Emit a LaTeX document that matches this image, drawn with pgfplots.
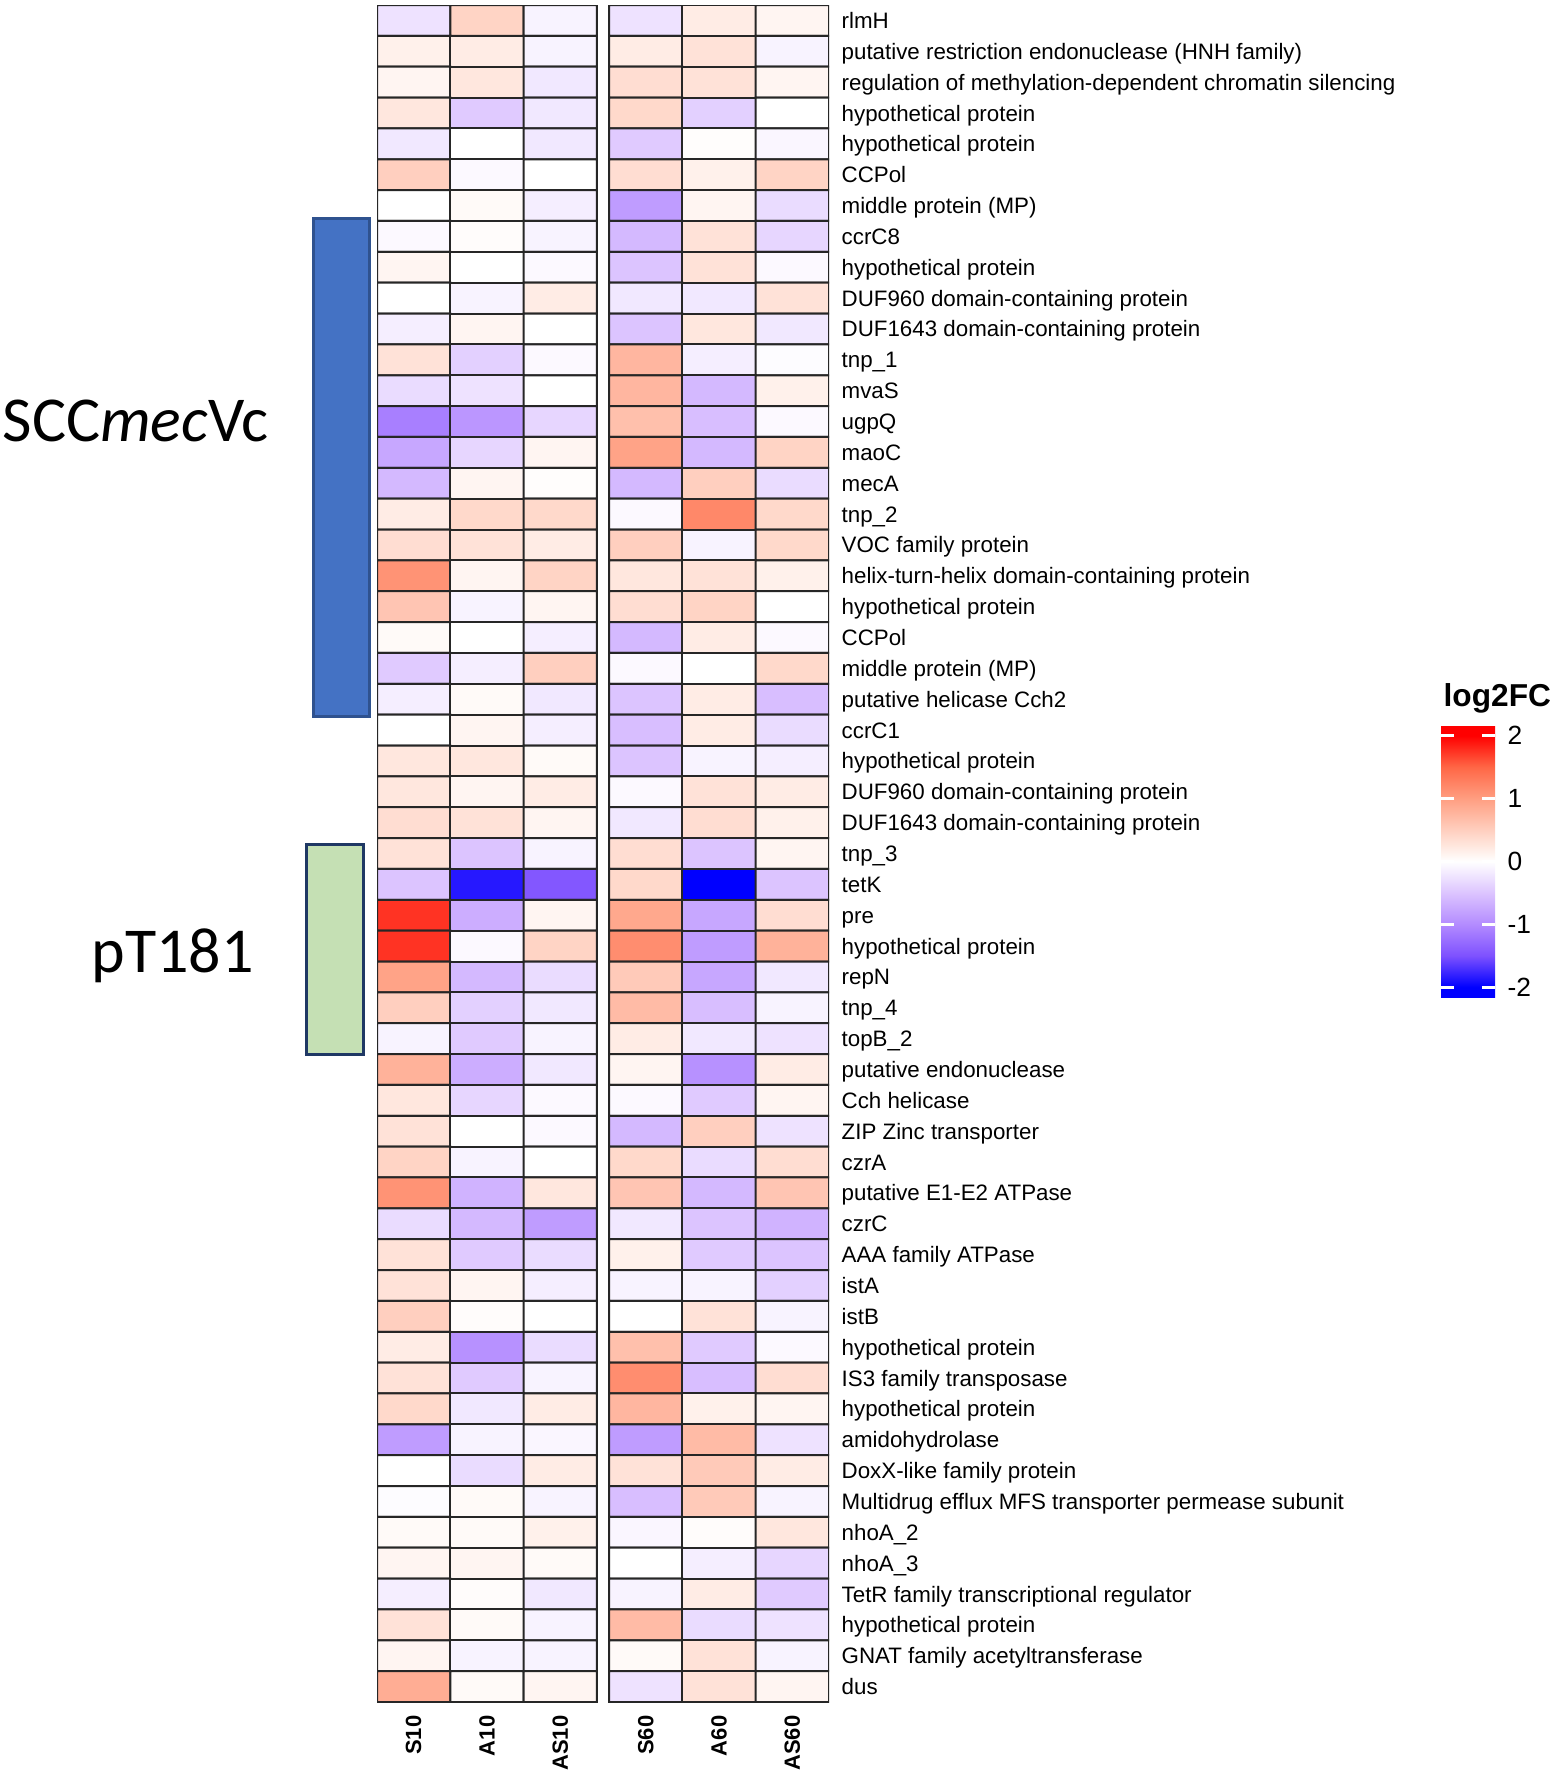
\documentclass[border=0pt]{standalone}
\usepackage{pgfplots}
\pgfplotsset{compat=1.18}
\usepackage{fontspec}
\setmainfont{Liberation Sans}
\newfontfamily\calibri{Carlito}
\usetikzlibrary{calc}

% blue-white-red ramp (Lab-like), positions = (value+2.17)*100pt
\pgfplotsset{colormap={lab}{
  rgb255(0pt)=(0,0,255) rgb255(17pt)=(0,0,255)
  rgb255(67pt)=(126,81,255) rgb255(117pt)=(179,139,255)
  rgb255(167pt)=(220,196,255) rgb255(192pt)=(238,226,255)
  rgb255(217pt)=(255,255,255)
  rgb255(242pt)=(255,231,222) rgb255(267pt)=(255,207,191)
  rgb255(317pt)=(255,158,129) rgb255(367pt)=(255,103,70)
  rgb255(417pt)=(255,0,0) rgb255(434pt)=(255,0,0)}}

\definecolor{sccblue}{RGB}{68,114,196}
\definecolor{sccedge}{RGB}{47,82,143}
\definecolor{ptgreen}{RGB}{197,224,180}
\definecolor{ptedge}{RGB}{31,56,100}

\begin{document}
\begin{tikzpicture}
\begin{axis}[
    at={(113.1pt,-1.5pt)}, anchor=north west,
    scale only axis, width=135.6pt, height=509.1pt,
    xmin=-0.5, xmax=5.664, ymin=-0.5, ymax=54.5,
    y dir=reverse, enlargelimits=false,
    axis line style={draw=none}, major tick length=0pt,
    colormap name=lab, point meta min=-2.17, point meta max=2.17,
    xtick={0,1,2,3.164,4.164,5.164},
    xticklabels={S10,A10,AS10,S60,A60,AS60},
    xticklabel style={rotate=90, anchor=east, inner sep=0pt, font=\fontsize{6.6}{8}\selectfont\bfseries},
    xticklabel shift=3.9pt,
    ytick={0,...,54},
    yticklabel pos=right,
    yticklabel style={anchor=base west, inner sep=0pt, yshift=-2.4pt, font=\fontsize{6.7}{8}\selectfont},
    yticklabel shift=3.6pt,
    yticklabels={rlmH, putative restriction endonuclease (HNH family),
      regulation of methylation-dependent chromatin silencing,
      hypothetical protein, hypothetical protein, CCPol, middle protein (MP),
      ccrC8, hypothetical protein, DUF960 domain-containing protein,
      DUF1643 domain-containing protein, tnp\_1, mvaS, ugpQ, maoC, mecA,
      tnp\_2, VOC family protein, helix-turn-helix domain-containing protein,
      hypothetical protein, CCPol, middle protein (MP), putative helicase Cch2,
      ccrC1, hypothetical protein, DUF960 domain-containing protein,
      DUF1643 domain-containing protein, tnp\_3, tetK, pre, hypothetical protein,
      repN, tnp\_4, topB\_2, putative endonuclease, Cch helicase,
      ZIP Zinc transporter, czrA, putative E1-E2 ATPase, czrC,
      AAA family ATPase, istA, istB, hypothetical protein,
      IS3 family transposase, hypothetical protein, amidohydrolase,
      DoxX-like family protein, Multidrug efflux MFS transporter permease subunit,
      nhoA\_2, nhoA\_3, TetR family transcriptional regulator,
      hypothetical protein, GNAT family acetyltransferase, dus},
    colorbar shift/.style={xshift=0pt},
    colorbar/width=16.2pt,
    colorbar,
    colorbar style={
      at={($(parent axis.north west)+(319.2pt,-216pt)$)}, anchor=north west,
      scale only axis, width=16.2pt, height=81.9pt,
      axis on top, axis line style={draw=none},
      ytick={-2,-1,0,1,2},
      ytick pos=both, yticklabel pos=right, tick align=inside,
      major tick length=3.8pt,
      major tick style={white, line width=0.9pt},
      yticklabel style={anchor=west, inner sep=0pt, font=\fontsize{7.9}{9}\selectfont},
      yticklabel shift=3.6pt,
      /pgf/number format/assume math mode=true,
      title={log2FC},
      every axis title/.style={at={(0,1)}, anchor=base west, inner sep=0pt,
        yshift=5.4pt, xshift=0.6pt, font=\fontsize{9.5}{11}\selectfont\bfseries},
    },
]
% S10 A10 AS10
\addplot[matrix plot*, mesh/cols=3, point meta=explicit,
  shader=faceted, faceted color=black!85, line width=0.6pt] table[meta=c] {
x y c
0 0 -0.25
1 0 0.45
2 0 -0.1
0 1 0.15
1 1 0.2
2 1 -0.1
0 2 0.1
1 2 0.25
2 2 -0.2
0 3 0.25
1 3 -0.45
2 3 -0.2
0 4 -0.2
1 4 0
2 4 -0.2
0 5 0.5
1 5 -0.05
2 5 0
0 6 0
1 6 0.05
2 6 -0.15
0 7 -0.05
1 7 0.03
2 7 -0.1
0 8 0.1
1 8 0
2 8 -0.05
0 9 0
1 9 -0.1
2 9 0.2
0 10 -0.15
1 10 0.1
2 10 0
0 11 0.3
1 11 -0.4
2 11 -0.05
0 12 -0.3
1 12 -0.25
2 12 0
0 13 -1.1
1 13 -0.9
2 13 -0.35
0 14 -0.75
1 14 -0.35
2 14 0.1
0 15 -0.6
1 15 0.1
2 15 0.02
0 16 0.2
1 16 0.4
2 16 0.4
0 17 0.35
1 17 0.3
2 17 0.2
0 18 1.1
1 18 0.1
2 18 0.45
0 19 0.6
1 19 -0.1
2 19 0.1
0 20 0.05
1 20 0
2 20 -0.15
0 21 -0.45
1 21 -0.15
2 21 0.5
0 22 -0.15
1 22 0.05
2 22 -0.2
0 23 0
1 23 0.1
2 23 -0.15
0 24 0.25
1 24 0.25
2 24 0.05
0 25 0.25
1 25 0.1
2 25 0.2
0 26 0.35
1 26 0.3
2 26 0.1
0 27 0.3
1 27 -0.5
2 27 -0.1
0 28 -0.5
1 28 -1.85
2 28 -1.45
0 29 1.75
1 29 -0.7
2 29 0.1
0 30 1.75
1 30 -0.05
2 30 0.45
0 31 0.95
1 31 -0.6
2 31 -0.3
0 32 0.5
1 32 -0.4
2 32 -0.2
0 33 -0.1
1 33 -0.45
2 33 -0.1
0 34 0.8
1 34 -0.7
2 34 -0.2
0 35 0.25
1 35 -0.35
2 35 -0.05
0 36 0.3
1 36 0
2 36 -0.05
0 37 0.45
1 37 -0.1
2 37 0
0 38 1.1
1 38 -0.65
2 38 0.25
0 39 -0.3
1 39 -0.6
2 39 -0.85
0 40 0.3
1 40 -0.45
2 40 -0.3
0 41 0.3
1 41 0.1
2 41 -0.15
0 42 0.5
1 42 0.03
2 42 0
0 43 0.2
1 43 -0.95
2 43 -0.3
0 44 0.3
1 44 -0.45
2 44 -0.1
0 45 0.4
1 45 -0.2
2 45 0.2
0 46 -0.85
1 46 -0.1
2 46 -0.08
0 47 0
1 47 -0.3
2 47 0.2
0 48 -0.03
1 48 0.05
2 48 -0.1
0 49 0.05
1 49 0.05
2 49 0.15
0 50 0.1
1 50 0.1
2 50 0.05
0 51 -0.15
1 51 0.03
2 51 -0.2
0 52 0.3
1 52 0.05
2 52 -0.1
0 53 0.1
1 53 -0.1
2 53 -0.1
0 54 0.85
1 54 0.05
2 54 0.1
};
% S60 A60 AS60
\addplot[matrix plot*, mesh/cols=3, point meta=explicit,
  shader=faceted, faceted color=black!85, line width=0.6pt] table[meta=c] {
x y c
3.164 0 -0.25
4.164 0 0.2
5.164 0 0.1
3.164 1 0.2
4.164 1 0.3
5.164 1 -0.1
3.164 2 0.35
4.164 2 0.3
5.164 2 0.1
3.164 3 0.4
4.164 3 -0.4
5.164 3 0
3.164 4 -0.45
4.164 4 0.02
5.164 4 -0.08
3.164 5 0.35
4.164 5 0.15
5.164 5 0.45
3.164 6 -0.85
4.164 6 0.1
5.164 6 -0.3
3.164 7 -0.6
4.164 7 0.3
5.164 7 -0.35
3.164 8 -0.5
4.164 8 0.3
5.164 8 -0.05
3.164 9 -0.2
4.164 9 -0.2
5.164 9 0.3
3.164 10 -0.5
4.164 10 0.25
5.164 10 -0.2
3.164 11 0.75
4.164 11 -0.15
5.164 11 -0.03
3.164 12 0.75
4.164 12 -0.6
5.164 12 0.15
3.164 13 0.65
4.164 13 -0.55
5.164 13 -0.05
3.164 14 0.95
4.164 14 -0.6
5.164 14 0.45
3.164 15 -0.6
4.164 15 0.5
5.164 15 -0.3
3.164 16 -0.05
4.164 16 1.2
5.164 16 0.4
3.164 17 0.5
4.164 17 -0.1
5.164 17 0.4
3.164 18 0.25
4.164 18 0.3
5.164 18 0.15
3.164 19 0.35
4.164 19 0.45
5.164 19 0
3.164 20 -0.6
4.164 20 0.2
5.164 20 -0.05
3.164 21 -0.05
4.164 21 0
5.164 21 0.4
3.164 22 -0.5
4.164 22 0.2
5.164 22 -0.55
3.164 23 -0.55
4.164 23 0.2
5.164 23 -0.3
3.164 24 -0.5
4.164 24 -0.1
5.164 24 -0.15
3.164 25 -0.05
4.164 25 0.3
5.164 25 0.2
3.164 26 -0.2
4.164 26 0.35
5.164 26 0.15
3.164 27 0.35
4.164 27 -0.5
5.164 27 0.1
3.164 28 0.4
4.164 28 -2.0
5.164 28 -0.5
3.164 29 0.9
4.164 29 -0.75
5.164 29 0.35
3.164 30 1.15
4.164 30 -0.85
5.164 30 0.8
3.164 31 0.55
4.164 31 -0.75
5.164 31 -0.2
3.164 32 0.7
4.164 32 -0.55
5.164 32 -0.1
3.164 33 0.2
4.164 33 -0.2
5.164 33 -0.25
3.164 34 0.1
4.164 34 -0.95
5.164 34 0.2
3.164 35 -0.05
4.164 35 -0.45
5.164 35 0.1
3.164 36 -0.6
4.164 36 0.5
5.164 36 -0.25
3.164 37 0.4
4.164 37 -0.3
5.164 37 0.35
3.164 38 0.6
4.164 38 -0.6
5.164 38 0.6
3.164 39 -0.2
4.164 39 -0.5
5.164 39 -0.65
3.164 40 0.15
4.164 40 -0.45
5.164 40 -0.5
3.164 41 -0.1
4.164 41 -0.1
5.164 41 -0.4
3.164 42 0
4.164 42 0.3
5.164 42 -0.1
3.164 43 0.65
4.164 43 -0.45
5.164 43 -0.05
3.164 44 1.15
4.164 44 -0.55
5.164 44 0.35
3.164 45 0.75
4.164 45 0.15
5.164 45 0.1
3.164 46 -0.85
4.164 46 0.7
5.164 46 -0.25
3.164 47 0.3
4.164 47 0.55
5.164 47 0.2
3.164 48 -0.55
4.164 48 0.55
5.164 48 -0.1
3.164 49 -0.08
4.164 49 0.03
5.164 49 0.25
3.164 50 0
4.164 50 -0.15
5.164 50 -0.35
3.164 51 -0.1
4.164 51 0.2
5.164 51 -0.45
3.164 52 0.7
4.164 52 -0.3
5.164 52 -0.25
3.164 53 0.05
4.164 53 0.3
5.164 53 -0.1
3.164 54 -0.25
4.164 54 0.3
5.164 54 0.1
};
\end{axis}
\begin{scope}[x=0.3pt, y=-0.3pt]
  \draw[sccedge, fill=sccblue, line width=0.9pt] (313,219) rectangle (369,716);
  \draw[ptedge, fill=ptgreen, line width=0.9pt] (306,844) rectangle (363,1054);
  \node[anchor=base west, inner sep=0pt, font=\calibri\fontsize{19.2}{22}\selectfont]
    at (2,442) {SCC\textit{mec}Vc};
  \node[anchor=base west, inner sep=0pt, font=\calibri\fontsize{19.2}{22}\selectfont]
    at (91,972) {pT181};
  \pgfresetboundingbox
  \path[use as bounding box] (0,0) rectangle (1559,1777);
\end{scope}
\end{tikzpicture}
\end{document}
